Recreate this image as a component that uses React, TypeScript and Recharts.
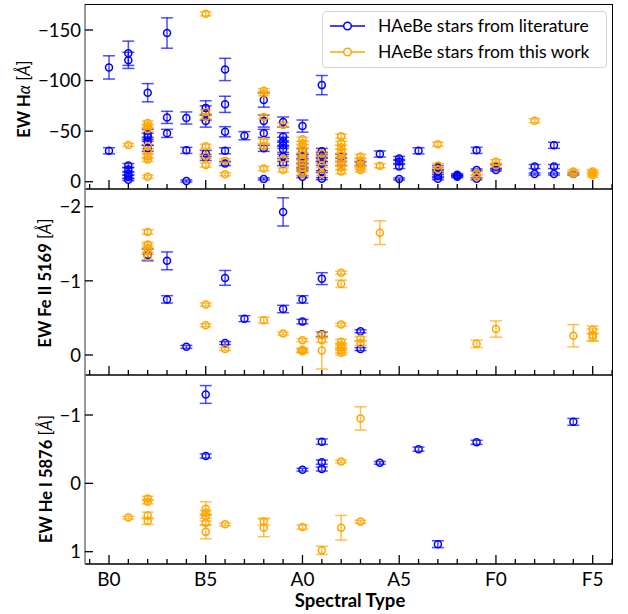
import React from "react";
import { ErrorBar, Scatter, ScatterChart, XAxis, YAxis } from "recharts";

// [spectral subtype (B0 = 0, A0 = 10, F0 = 20), EW, error]
type Pt = [number, number, number];

const spectralTypes = ["B0", "B5", "A0", "A5", "F0", "F5"];
const xTicks = [-1, 0, 1, 2, 3, 4, 5, 6, 7, 8, 9, 10, 11, 12, 13, 14, 15, 16, 17, 18, 19, 20, 21, 22, 23, 24, 25, 26];

const haLiterature: Pt[] = [
  [0, -113, 11.5], [0, -30.6, 3],
  [1, -127, 12], [1, -120, 8], [1, -16, 2], [1, -12, 2], [1, -8, 1.5], [1, -5, 1.5], [1, -2, 1],
  [2, -88, 9], [2, -47, 5], [2, -44, 4], [2, -40, 4], [2, -33, 3],
  [3, -147, 15], [3, -63.6, 6], [3, -47.8, 4],
  [4, -63, 6], [4, -31, 3], [4, -0.7, 1],
  [5, -73, 7], [5, -68, 7], [5, -60, 6], [5, -28, 3], [5, -24, 3],
  [6, -111, 11], [6, -76.5, 8], [6, -49.4, 5], [6, -30.6, 3], [6, -18, 2],
  [7, -45.5, 4],
  [8, -80.7, 7], [8, -60, 6], [8, -47.8, 4], [8, -33, 3], [8, -2.7, 1],
  [9, -59, 5], [9, -44.5, 4], [9, -40, 4], [9, -36, 3], [9, -32, 3], [9, -25, 2], [9, -18, 2],
  [10, -55, 6], [10, -30, 3], [10, -25, 2], [10, -20, 2], [10, -16, 2], [10, -12, 1], [10, -5, 1],
  [11, -95.5, 9.5], [11, -30, 3], [11, -26, 3], [11, -22, 2], [11, -18, 2], [11, -10, 1], [11, -3, 1],
  [12, -25, 2], [12, -18, 2],
  [13, -18, 2],
  [14, -27.4, 3],
  [15, -23, 2], [15, -20, 2], [15, -15, 2], [15, -2.7, 1],
  [16, -30.6, 3],
  [17, -14, 2], [17, -10, 1], [17, -6, 1], [17, -3, 1],
  [18, -7, 1], [18, -6, 1], [18, -5, 1],
  [19, -31, 3], [19, -11.6, 1], [19, -3, 1],
  [20, -15, 2], [20, -11.6, 1],
  [22, -15, 2], [22, -7.6, 1],
  [23, -36, 3], [23, -15, 2], [23, -7.6, 1],
  [24, -7.6, 1],
];

const haThisWork: Pt[] = [
  [1, -36.3, 1.5],
  [2, -58, 2], [2, -55, 2], [2, -52, 2], [2, -35, 2], [2, -30, 2], [2, -25, 2], [2, -22, 2], [2, -5, 1.5],
  [5, -166, 2], [5, -69, 2], [5, -64, 2], [5, -35, 2], [5, -25, 2], [5, -16.5, 2],
  [6, -20.8, 2], [6, -7.3, 1.5],
  [8, -90, 2], [8, -87, 2], [8, -64, 2], [8, -40, 2], [8, -35, 2], [8, -13, 2],
  [9, -56, 2], [9, -23, 2], [9, -11.6, 2],
  [10, -42, 2], [10, -38, 2], [10, -35, 2], [10, -30, 2], [10, -27, 2], [10, -23, 2], [10, -20, 2], [10, -17, 2], [10, -14, 2], [10, -11, 2], [10, -8, 2],
  [11, -28, 2], [11, -23, 2], [11, -16, 2], [11, -8, 2],
  [12, -45, 2], [12, -38, 2], [12, -34, 2], [12, -30, 2], [12, -26, 2], [12, -22, 2], [12, -18, 2], [12, -14, 2], [12, -10, 2],
  [13, -25, 2], [13, -21, 2], [13, -17, 2], [13, -14, 2], [13, -11.6, 2],
  [14, -15.8, 2],
  [17, -37, 2], [17, -16, 2], [17, -12, 2],
  [19, -8.3, 2], [19, -5, 2],
  [20, -19.8, 2], [20, -16, 2],
  [22, -60.3, 2],
  [24, -10, 2], [24, -8, 2],
  [25, -10, 2], [25, -8.3, 2], [25, -6.5, 2],
];

const feLiterature: Pt[] = [
  [2, -1.35, 0.08],
  [3, -1.27, 0.12], [3, -0.75, 0.05],
  [4, -0.11, 0.02],
  [6, -1.04, 0.1], [6, -0.16, 0.02],
  [7, -0.49, 0.04],
  [9, -1.93, 0.19], [9, -0.62, 0.05],
  [10, -0.75, 0.05], [10, -0.45, 0.03],
  [11, -1.03, 0.08], [11, -0.28, 0.03],
  [13, -0.32, 0.02], [13, -0.08, 0.02],
];

const feThisWork: Pt[] = [
  [2, -1.66, 0.03], [2, -1.49, 0.03], [2, -1.44, 0.05], [2, -1.4, 0.04], [2, -1.33, 0.04],
  [5, -0.68, 0.02], [5, -0.4, 0.02],
  [6, -0.08, 0.02],
  [8, -0.47, 0.04],
  [9, -0.29, 0.02],
  [10, -0.2, 0.02], [10, -0.07, 0.02], [10, -0.05, 0.02], [10, -0.06, 0.03],
  [11, -0.27, 0.03], [11, -0.2, 0.03], [11, -0.06, 0.25],
  [12, -1.11, 0.02], [12, -0.96, 0.05], [12, -0.41, 0.02], [12, -0.18, 0.03], [12, -0.13, 0.03], [12, -0.1, 0.03], [12, -0.06, 0.03], [12, -0.03, 0.03],
  [13, -0.22, 0.03], [13, -0.16, 0.03],
  [14, -1.65, 0.16],
  [19, -0.15, 0.05],
  [20, -0.35, 0.11],
  [24, -0.26, 0.15],
  [25, -0.34, 0.05], [25, -0.27, 0.08], [25, -0.24, 0.05],
];

const heLiterature: Pt[] = [
  [5, -1.3, 0.13], [5, -0.4, 0.03],
  [10, -0.2, 0.02],
  [11, -0.61, 0.04], [11, -0.31, 0.03], [11, -0.21, 0.03],
  [14, -0.3, 0.02],
  [16, -0.5, 0.03],
  [17, 0.89, 0.05],
  [19, -0.6, 0.03],
  [24, -0.9, 0.05],
];

const heThisWork: Pt[] = [
  [1, 0.5, 0.02],
  [2, 0.22, 0.03], [2, 0.27, 0.03], [2, 0.47, 0.05], [2, 0.55, 0.05],
  [5, 0.37, 0.1], [5, 0.43, 0.03], [5, 0.48, 0.03], [5, 0.58, 0.03], [5, 0.71, 0.1],
  [6, 0.6, 0.02],
  [8, 0.56, 0.05], [8, 0.65, 0.13],
  [10, 0.64, 0.03],
  [11, 0.98, 0.06],
  [12, -0.32, 0.02], [12, 0.65, 0.18],
  [13, -0.95, 0.17], [13, 0.56, 0.02],
];

const BLUE = "#0000ff";
const ORANGE = "#ffa500";
const FONT = "Lato, 'Open Sans', sans-serif";
const X_DOMAIN: [number, number] = [-1.24, 26.05];

const toRows = (pts: Pt[]) => pts.map(([x, y, err]) => ({ x, y, err }));
const fmt = (v: number) => String(v).replace("-", "\u2212");

function XTick(props: any) {
  const { x, y, payload, showLabel } = props;
  const v = payload.value as number;
  const major = v >= 0 && v % 5 === 0;
  return (
    <g>
      <line x1={x} x2={x} y1={y} y2={y - (major ? 9 : 5)} stroke="#000" strokeWidth={1.3} />
      {showLabel && major && (
        <text x={x} y={y + 22} textAnchor="middle" fontSize={19} fontFamily={FONT} fill="#000">
          {spectralTypes[v / 5]}
        </text>
      )}
    </g>
  );
}

function YTick(props: any) {
  const { x, y, payload } = props;
  return (
    <g>
      <line x1={x} x2={x + 8} y1={y} y2={y} stroke="#000" strokeWidth={1.3} />
      <text x={x - 4} y={y} dy="0.36em" textAnchor="end" fontSize={18.5} fontFamily={FONT} fill="#000">
        {fmt(payload.value)}
      </text>
    </g>
  );
}

const marker = (color: string) => (p: any) => (
  <circle cx={p.cx} cy={p.cy} r={3.5} fill="none" stroke={color} strokeWidth={1.5} />
);

type PanelProps = {
  top: number;
  height: number;
  marginTop: number;
  marginBottom: number;
  domain: [number, number];
  ticks: number[];
  lit: Pt[];
  work: Pt[];
  showXLabels?: boolean;
};

function Panel({ top, height, marginTop, marginBottom, domain, ticks, lit, work, showXLabels = false }: PanelProps) {
  return (
    <div style={{ position: "absolute", left: 0, top, width: 628, height }}>
      <ScatterChart width={628} height={height} margin={{ top: marginTop, right: 15, bottom: marginBottom, left: 0 }}>
        <XAxis
          type="number"
          dataKey="x"
          domain={X_DOMAIN}
          ticks={xTicks}
          interval={0}
          allowDataOverflow
          height={1}
          tickSize={0}
          tickMargin={0}
          tickLine={false}
          axisLine={{ stroke: "#000", strokeWidth: 1.3 }}
          tick={(p: any) => <XTick {...p} showLabel={showXLabels} />}
        />
        <YAxis
          type="number"
          dataKey="y"
          domain={domain}
          reversed
          ticks={ticks}
          interval={0}
          allowDataOverflow
          width={85}
          tickSize={0}
          tickMargin={0}
          tickLine={false}
          axisLine={{ stroke: "#808080", strokeWidth: 1.6 }}
          tick={(p: any) => <YTick {...p} />}
        />
        <Scatter data={toRows(lit)} isAnimationActive={false} shape={marker(BLUE)}>
          <ErrorBar dataKey="err" direction="y" width={6} stroke={BLUE} strokeOpacity={0.7} strokeWidth={1.5} isAnimationActive={false} />
        </Scatter>
        <Scatter data={toRows(work)} isAnimationActive={false} shape={marker(ORANGE)}>
          <ErrorBar dataKey="err" direction="y" width={6} stroke={ORANGE} strokeOpacity={0.7} strokeWidth={1.5} isAnimationActive={false} />
        </Scatter>
      </ScatterChart>
    </div>
  );
}

function YLabel({ cx, cy, main, greek }: { cx: number; cy: number; main: string; greek?: string }) {
  return (
    <text
      x={cx}
      y={cy}
      transform={`rotate(-90, ${cx}, ${cy})`}
      textAnchor="middle"
      dominantBaseline="central"
      fontSize={16.5}
      fontFamily={FONT}
      fill="#000"
    >
      <tspan fontWeight="bold">{main}</tspan>
      {greek && <tspan fontStyle="italic">{greek}</tspan>}
      <tspan> [</tspan>
      <tspan fontStyle="italic">Å</tspan>
      <tspan>]</tspan>
    </text>
  );
}

export default function App() {
  return (
    <div style={{ position: "absolute", left: 0, top: 0, width: 628, height: 614, background: "#fff", fontFamily: FONT }}>
      <Panel top={0} height={192} marginTop={4} marginBottom={2} domain={[-175.7, 7.2]} ticks={[-150, -100, -50, 0]} lit={haLiterature} work={haThisWork} />
      <Panel top={186} height={192} marginTop={3} marginBottom={2} domain={[-2.239, 0.27]} ticks={[-2, -1, 0]} lit={feLiterature} work={feThisWork} />
      <Panel top={372} height={242} marginTop={3} marginBottom={49} domain={[-1.585, 1.18]} ticks={[-1, 0, 1]} lit={heLiterature} work={heThisWork} showXLabels />

      <div
        style={{
          position: "absolute",
          left: 85,
          top: 4,
          width: 528,
          height: 560,
          boxSizing: "border-box",
          borderTop: "1.3px solid #000",
          borderRight: "1.3px solid #000",
          pointerEvents: "none",
        }}
      />

      <svg width={628} height={614} style={{ position: "absolute", left: 0, top: 0, pointerEvents: "none" }}>
        <YLabel cx={24} cy={99} main="EW H" greek="α" />
        <YLabel cx={45} cy={283} main="EW Fe II 5169" />
        <YLabel cx={46} cy={479} main="EW He I 5876" />
        <text x={350} y={607} textAnchor="middle" fontSize={18.5} fontWeight="bold" fontFamily={FONT} fill="#000">
          Spectral Type
        </text>
      </svg>

      <div
        style={{
          position: "absolute",
          left: 322,
          top: 11,
          width: 285,
          height: 57,
          boxSizing: "border-box",
          border: "1px solid #d4d4d4",
          borderRadius: 4,
          background: "rgba(255,255,255,0.85)",
        }}
      >
        <svg width={283} height={55}>
          <line x1={7} x2={42} y1={14} y2={14} stroke={BLUE} strokeWidth={1.5} />
          <circle cx={24.5} cy={14} r={3.8} fill="#fff" stroke={BLUE} strokeWidth={1.5} />
          <text x={55} y={20} fontSize={17.5} fontFamily={FONT} fill="#000">
            HAeBe stars from literature
          </text>
          <line x1={7} x2={42} y1={40} y2={40} stroke={ORANGE} strokeWidth={1.5} />
          <circle cx={24.5} cy={40} r={3.8} fill="#fff" stroke={ORANGE} strokeWidth={1.5} />
          <text x={55} y={46} fontSize={17.5} fontFamily={FONT} fill="#000">
            HAeBe stars from this work
          </text>
        </svg>
      </div>
    </div>
  );
}
